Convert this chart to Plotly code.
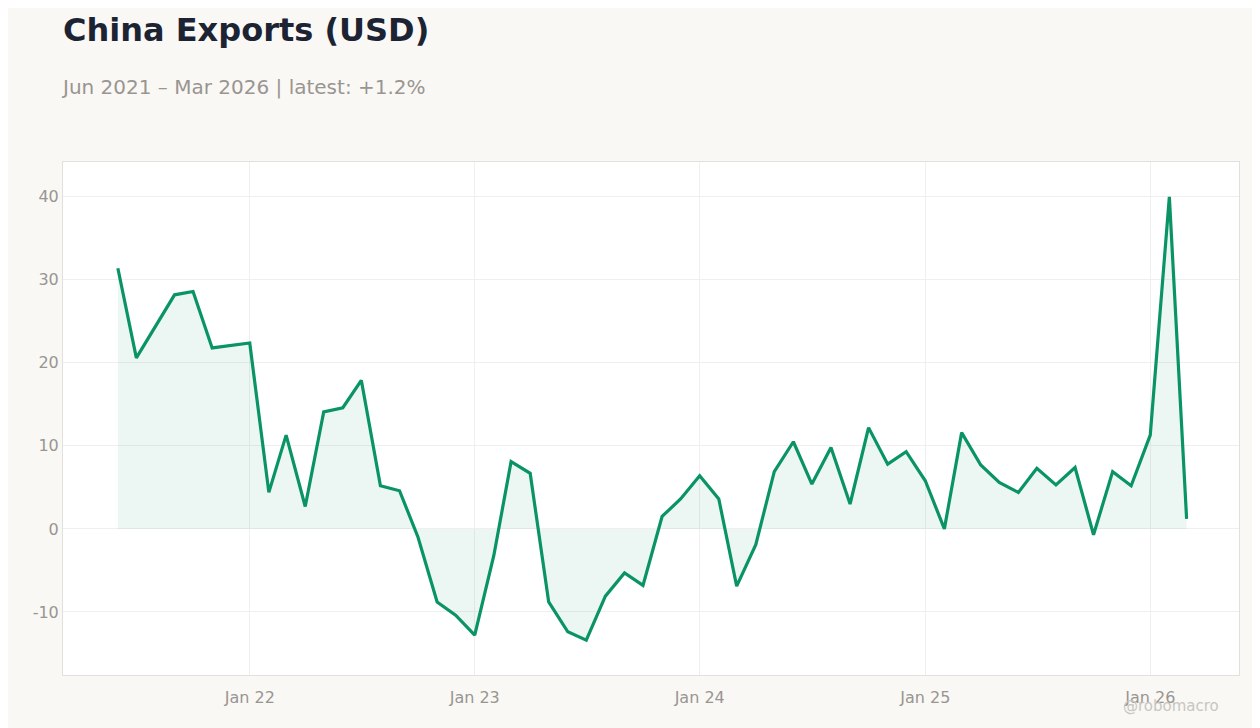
import plotly.graph_objects as go

dates = ["2021-06-01", "2021-07-01", "2021-09-01", "2021-10-01", "2021-11-01",
         "2022-01-01", "2022-02-01", "2022-03-01", "2022-04-01", "2022-05-01", "2022-06-01",
         "2022-07-01", "2022-08-01", "2022-09-01", "2022-10-01", "2022-11-01", "2022-12-01",
         "2023-01-01", "2023-02-01", "2023-03-01", "2023-04-01", "2023-05-01", "2023-06-01",
         "2023-07-01", "2023-08-01", "2023-09-01", "2023-10-01", "2023-11-01", "2023-12-01",
         "2024-01-01", "2024-02-01", "2024-03-01", "2024-04-01", "2024-05-01", "2024-06-01",
         "2024-07-01", "2024-08-01", "2024-09-01", "2024-10-01", "2024-11-01", "2024-12-01",
         "2025-01-01", "2025-02-01", "2025-03-01", "2025-04-01", "2025-05-01", "2025-06-01",
         "2025-07-01", "2025-08-01", "2025-09-01", "2025-10-01", "2025-11-01", "2025-12-01",
         "2026-01-01", "2026-02-01", "2026-03-01"]
yoy = [31.4, 20.6, 28.2, 28.6, 21.8,
       22.4, 4.4, 11.3, 2.7, 14.1, 14.6,
       17.9, 5.2, 4.6, -1.0, -8.8, -10.4,
       -12.8, -3.2, 8.1, 6.7, -8.8, -12.4,
       -13.4, -8.1, -5.3, -6.8, 1.5, 3.6,
       6.4, 3.6, -6.9, -1.9, 6.9, 10.5,
       5.4, 9.8, 3.0, 12.2, 7.8, 9.3,
       5.8, 0.0, 11.6, 7.7, 5.6, 4.4,
       7.3, 5.3, 7.4, -0.7, 6.9, 5.2,
       11.3, 40.0, 1.2]

tick_vals = ["2022-01-01", "2023-01-01", "2024-01-01", "2025-01-01", "2026-01-01"]
tick_text = ["Jan 22", "Jan 23", "Jan 24", "Jan 25", "Jan 26"]
y_ticks = [-10, 0, 10, 20, 30, 40]

fig = go.Figure()
fig.add_trace(go.Scatter(x=dates, y=yoy, mode="lines", fill="tozeroy",
                         fillcolor="rgba(10,148,101,0.08)",
                         line=dict(color="#0a9465", width=3.2)))

fig.update_layout(
    width=1260, height=728,
    paper_bgcolor="#f9f8f5", plot_bgcolor="white",
    margin=dict(l=55, r=29, t=154, b=61),
    showlegend=False,
    font=dict(family="DejaVu Sans, sans-serif", color="#999590", size=16),
    title=dict(text="<b>China Exports (USD)</b>", x=55 / 1260, xanchor="left", y=0.97, yanchor="middle",
               font=dict(size=32, color="#1c2333")),
    annotations=[
        dict(text="Jun 2021 – Mar 2026 | latest: +1.2%", xref="paper", yref="paper",
             x=-0.0035, y=1.147, xanchor="left", yanchor="middle", showarrow=False,
             font=dict(size=20, color="#999590")),
        dict(text="@robomacro", xref="paper", yref="paper", x=0.985, y=-0.06,
             xanchor="right", yanchor="middle", showarrow=False,
             font=dict(size=15, color="#c8c6c2")),
    ],
)
fig.update_xaxes(range=["2021-03-04", "2026-05-25"], tickvals=tick_vals, ticktext=tick_text,
                 showgrid=True, gridcolor="#f0efec", zeroline=False,
                 showline=True, linecolor="#e2e0dc", mirror=True, ticks="", ticklen=0,
                 ticklabelstandoff=8)
fig.update_yaxes(range=[-17.6, 44.2], tickvals=y_ticks, ticktext=[str(v) for v in y_ticks],
                 showgrid=True, gridcolor="#f0efec",
                 zeroline=False, showline=True, linecolor="#e2e0dc", mirror=True)

fig.write_html("out.html")
